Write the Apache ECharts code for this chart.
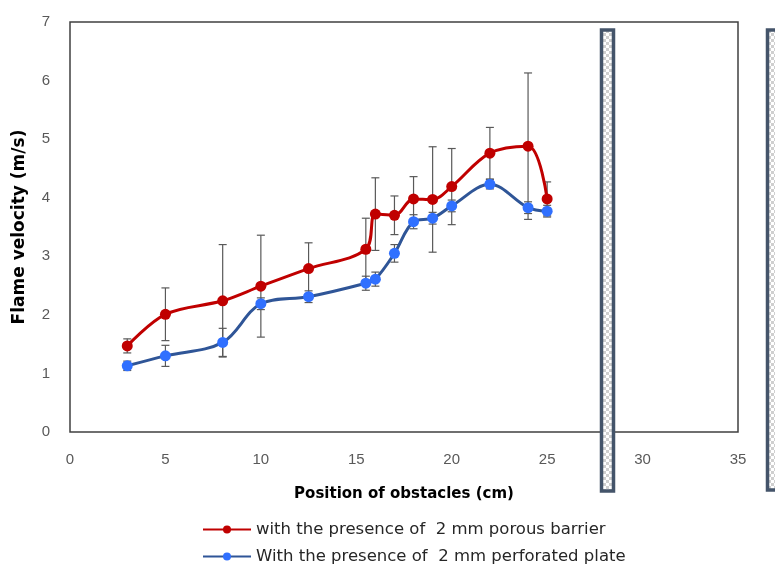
<!doctype html>
<html lang="en">
<head>
    <meta charset="UTF-8">
    <title>flame velocity</title>
    <style>
        html, body {margin: 0; padding: 0; background: #fff;}
        #chart {width: 775px; height: 565px;}
    </style>
</head>
<body>
<div id="chart"></div>
<script src="https://cdn.jsdelivr.net/npm/echarts@6/dist/echarts.min.js"></script>
<script>
    // positions of the obstacles (cm)
    var positions = [3, 5, 8, 10, 12.5, 15.5, 16, 17, 18, 19, 20, 22, 24, 25];

    // porous barrier
    var porous = [1.47, 2.01, 2.24, 2.49, 2.79, 3.12, 3.72, 3.70, 3.98, 3.97, 4.19, 4.76, 4.88, 3.98];
    var porousErr = [0.12, 0.45, 0.96, 0.87, 0.44, 0.53, 0.62, 0.33, 0.38, 0.90, 0.65, 0.44, 1.25, 0.29];

    // perforated plate
    var perforated = [1.13, 1.30, 1.53, 2.19, 2.31, 2.54, 2.61, 3.05, 3.59, 3.65, 3.86, 4.23, 3.83, 3.77];
    var perforatedErr = [0.08, 0.18, 0.24, 0.10, 0.10, 0.12, 0.12, 0.15, 0.12, 0.10, 0.10, 0.08, 0.10, 0.10];

    var names = ['with the presence of  2 mm porous barrier', 'With the presence of  2 mm perforated plate'];

    function pairs(ys) {
        return positions.map(function (x, i) { return [x, ys[i]]; });
    }
    function errRows(ys, es) {
        return positions.map(function (x, i) { return [x, ys[i] - es[i], ys[i] + es[i]]; });
    }

    // error bar: vertical line with two caps
    function renderErr(params, api) {
        var x = api.value(0);
        var lo = api.coord([x, api.value(1)]);
        var hi = api.coord([x, api.value(2)]);
        var w = 4;
        var st = {stroke: '#595959', lineWidth: 1.2};
        return {
            type: 'group',
            children: [
                {type: 'line', shape: {x1: lo[0], y1: lo[1], x2: hi[0], y2: hi[1]}, style: st},
                {type: 'line', shape: {x1: lo[0] - w, y1: lo[1], x2: lo[0] + w, y2: lo[1]}, style: st},
                {type: 'line', shape: {x1: hi[0] - w, y1: hi[1], x2: hi[0] + w, y2: hi[1]}, style: st}
            ]
        };
    }

    // checkered fill for the obstacle plates
    var pc = document.createElement('canvas');
    pc.width = 6; pc.height = 6;
    var g = pc.getContext('2d');
    g.fillStyle = '#ffffff'; g.fillRect(0, 0, 6, 6);
    g.fillStyle = '#cfcfcf'; g.fillRect(0, 0, 3, 3); g.fillRect(3, 3, 3, 3);

    var font = 'Liberation Sans';
    var wide = 'DejaVu Sans';
    var legendText = {fontSize: 16.5, color: '#262626', fontFamily: wide};
    var chart = echarts.init(document.getElementById('chart'));
    chart.setOption({
        animation: false,
        textStyle: {fontFamily: font},
        grid: {left: 70, top: 22, right: 37, bottom: 133, show: true, borderColor: '#404040', borderWidth: 1.5},
        legend: [
            {left: 197, top: 516, itemWidth: 48, itemHeight: 10, textStyle: legendText, data: [names[0]]},
            {left: 197, top: 543, itemWidth: 48, itemHeight: 10, textStyle: legendText, data: [names[1]]}
        ],
        xAxis: {
            type: 'value',
            min: 0, max: 35, interval: 5,
            name: 'Position of obstacles (cm)',
            nameLocation: 'middle',
            nameGap: 55,
            nameTextStyle: {fontSize: 15, fontWeight: 'bold', color: '#000', fontFamily: wide},
            axisLine: {show: false},
            axisTick: {show: false},
            splitLine: {show: false},
            axisLabel: {fontSize: 15, color: '#595959', margin: 20}
        },
        yAxis: {
            type: 'value',
            min: 0, max: 7, interval: 1,
            name: 'Flame velocity (m/s)',
            nameLocation: 'middle',
            nameGap: 42,
            nameTextStyle: {fontSize: 17, fontWeight: 'bold', color: '#000', fontFamily: wide},
            axisLine: {show: false},
            axisTick: {show: false},
            splitLine: {show: false},
            axisLabel: {fontSize: 15, color: '#595959', margin: 20}
        },
        series: [
            {
                type: 'custom', name: 'err1', renderItem: renderErr, z: 1,
                encode: {x: 0, y: [1, 2]}, data: errRows(porous, porousErr)
            },
            {
                type: 'custom', name: 'err2', renderItem: renderErr, z: 1,
                encode: {x: 0, y: [1, 2]}, data: errRows(perforated, perforatedErr)
            },
            {
                name: names[0], type: 'line', smooth: 0.35, z: 3,
                symbol: 'circle', symbolSize: 11,
                lineStyle: {color: '#c00000', width: 3},
                itemStyle: {color: '#c00000'},
                data: pairs(porous)
            },
            {
                name: names[1], type: 'line', smooth: 0.35, z: 2,
                symbol: 'circle', symbolSize: 11,
                lineStyle: {color: '#2f5597', width: 3},
                itemStyle: {color: '#3070ff'},
                data: pairs(perforated)
            }
        ],
        graphic: [
            {type: 'rect', shape: {x: 601.5, y: 30, width: 12, height: 461},
             style: {fill: {image: pc, repeat: 'repeat'}, stroke: '#44546a', lineWidth: 3.5}, z: 10},
            {type: 'rect', shape: {x: 767.5, y: 30, width: 12, height: 460},
             style: {fill: {image: pc, repeat: 'repeat'}, stroke: '#44546a', lineWidth: 3.5}, z: 10}
        ]
    });
</script>
</body>
</html>
